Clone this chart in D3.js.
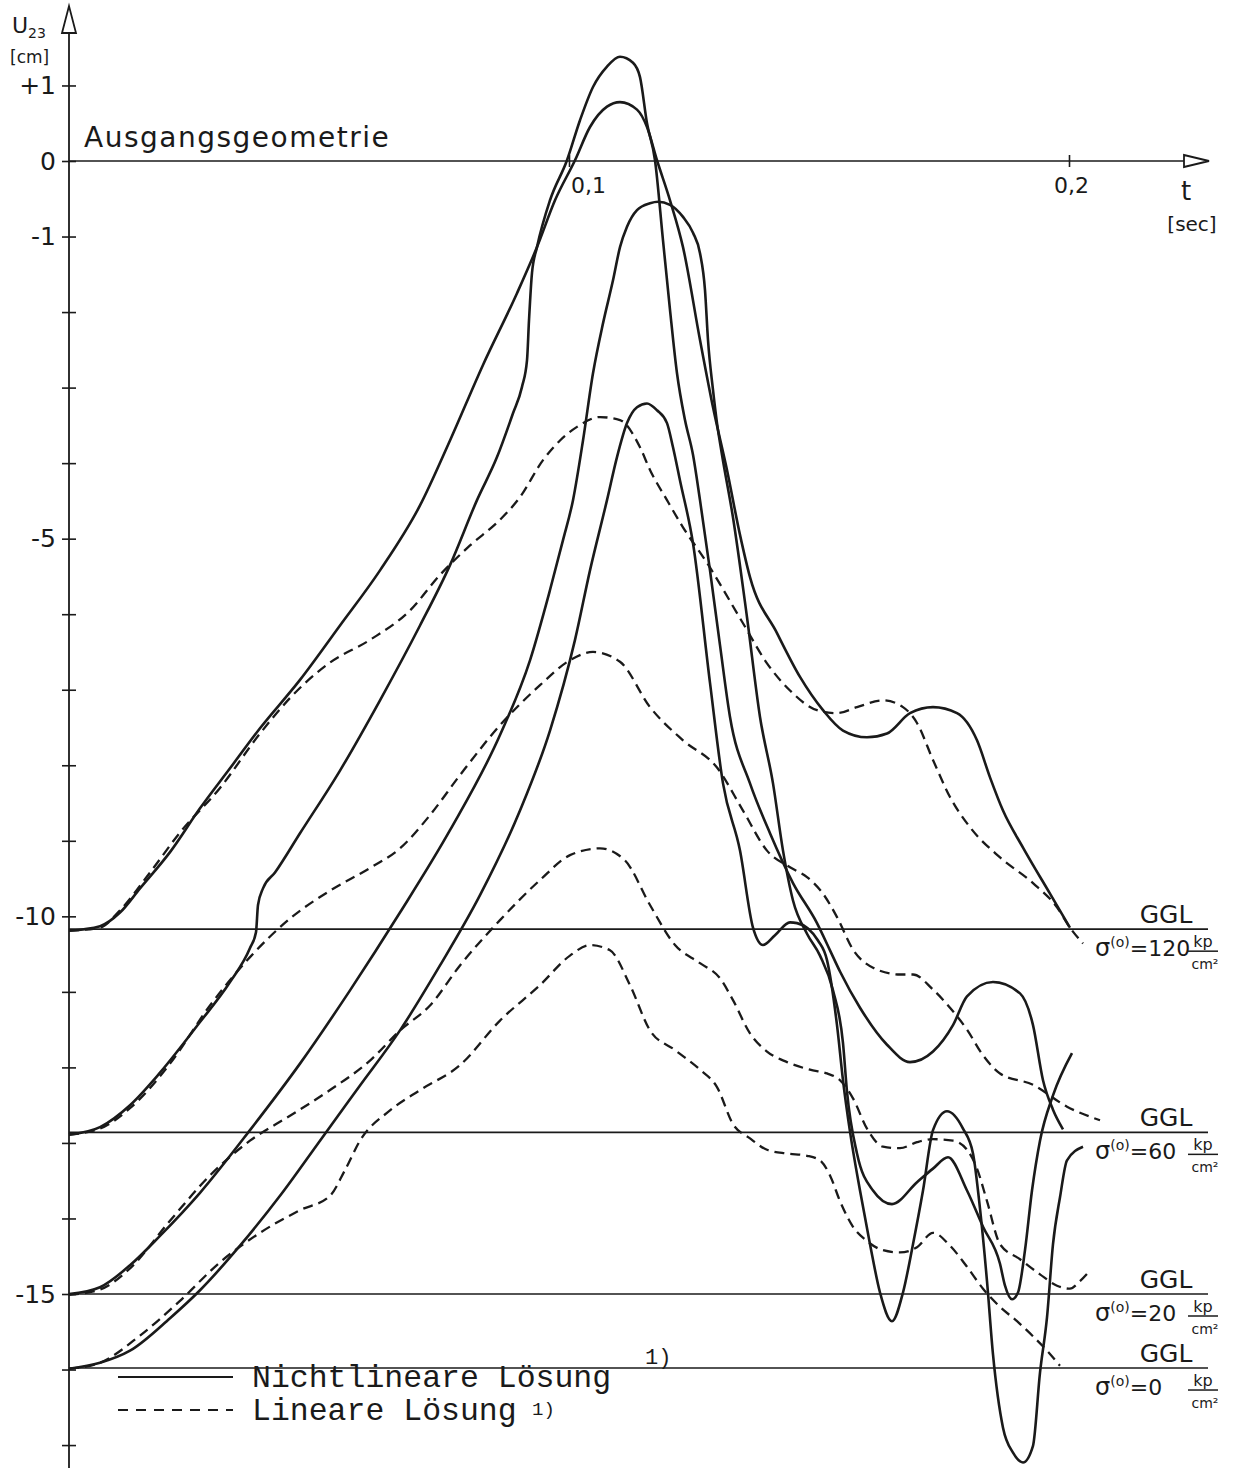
<!DOCTYPE html>
<html><head><meta charset="utf-8">
<script src="https://cdn.jsdelivr.net/npm/d3@7"></script>
<style>body{margin:0;background:#fff}svg{display:block}</style>
</head><body>
<svg id="c" width="1249" height="1468"></svg>
<script>
// ---- data: [t in ms, u23 in cm] ----
const nl120 = [[0,-10.19],[6.2,-10.13],[10.2,-9.95],[14.2,-9.63],[20.2,-9.15],[26.2,-8.57],[32.2,-8.04],[38.2,-7.51],[46.2,-6.87],[54.2,-6.15],[62.2,-5.42],[70.2,-4.56],[76.2,-3.70],[82.8,-2.70],[89.6,-1.75],[93.6,-1.14],[97.2,-0.52],[101.2,0.01],[104.2,0.45],[107.6,0.72],[110.2,0.78],[113.6,0.68],[115.6,0.45],[117.6,0.01],[120.2,-0.52],[122.8,-1.14],[126.2,-2.37],[128.8,-3.26],[131.6,-4.09],[134.2,-4.95],[136.2,-5.51],[141.6,-6.25],[146.2,-6.83],[150.8,-7.27],[154.8,-7.54],[159.6,-7.63],[163.6,-7.58],[168.2,-7.31],[172.8,-7.23],[177.6,-7.31],[181.6,-7.67],[184.2,-8.16],[186.8,-8.60],[190.8,-9.09],[196.2,-9.70],[200.2,-10.15]];
const lin120 = [[0,-10.19],[6.2,-10.15],[10.2,-9.92],[16.2,-9.42],[22.2,-8.89],[30.2,-8.30],[38.2,-7.58],[44.2,-7.11],[52.2,-6.64],[60.2,-6.34],[68.2,-5.95],[74.2,-5.48],[80.2,-5.09],[86.2,-4.75],[90.2,-4.45],[94.8,-3.96],[98.2,-3.70],[101.6,-3.52],[106.2,-3.39],[110.2,-3.43],[114.2,-3.79],[116.2,-4.09],[119.6,-4.49],[122.8,-4.85],[127.6,-5.32],[134.8,-6.12],[139.6,-6.65],[144.2,-7.01],[149.6,-7.27],[153.6,-7.31],[157.6,-7.23],[162.8,-7.14],[166.8,-7.23],[169.6,-7.44],[172.8,-7.93],[176.2,-8.42],[180.2,-8.82],[186.2,-9.22],[192.8,-9.56],[197.6,-9.88],[200.2,-10.15],[202.8,-10.36]];
const nl60 = [[0,-12.89],[6.2,-12.79],[12.2,-12.50],[18.2,-12.07],[26.2,-11.40],[32.2,-10.87],[36.2,-10.42],[37.4,-10.21],[37.8,-9.85],[38.8,-9.63],[41.2,-9.42],[46.2,-8.90],[54.2,-8.07],[62.2,-7.14],[70.2,-6.15],[76.2,-5.35],[81.6,-4.49],[85.6,-3.92],[88.8,-3.34],[90.6,-2.99],[91.6,-2.64],[92.0,-2.11],[92.6,-1.48],[93.6,-1.14],[96.2,-0.52],[99.6,0.01],[102.2,0.54],[104.8,0.98],[107.6,1.25],[110.2,1.38],[112.8,1.30],[114.2,1.11],[115.6,0.50],[117.2,0.01],[118.8,-1.05],[120.2,-1.97],[121.6,-2.81],[123.2,-3.43],[124.8,-3.89],[126.2,-4.49],[128.2,-5.42],[130.2,-6.41],[132.2,-7.36],[136.2,-8.24],[140.2,-8.90],[144.8,-9.56],[149.6,-10.09],[152.2,-10.45],[154.2,-10.73],[158.2,-11.21],[163.6,-11.70],[168.2,-11.93],[172.8,-11.79],[176.8,-11.44],[179.6,-11.06],[184.8,-10.87],[190.2,-11.02],[192.8,-11.44],[194.8,-12.17],[196.8,-12.56],[198.8,-12.82]];
const lin60 = [[0,-12.89],[6.2,-12.81],[12.2,-12.54],[20.2,-11.95],[28.2,-11.18],[36.2,-10.54],[44.2,-10.03],[52.2,-9.66],[60.2,-9.36],[66.2,-9.10],[72.2,-8.66],[78.2,-8.13],[86.2,-7.47],[94.2,-6.94],[100.2,-6.61],[104.8,-6.50],[110.2,-6.63],[116.2,-7.23],[122.8,-7.67],[129.6,-8.03],[134.8,-8.60],[139.6,-9.13],[144.2,-9.35],[147.6,-9.48],[150.8,-9.70],[153.6,-10.01],[156.8,-10.44],[160.8,-10.68],[166.2,-10.77],[168.8,-10.77],[172.8,-10.97],[176.2,-11.21],[179.6,-11.50],[182.8,-11.84],[186.2,-12.08],[192.8,-12.23],[199.6,-12.52],[206.2,-12.70]];
const nl20 = [[0,-15.0],[6.2,-14.91],[12.2,-14.62],[18.2,-14.23],[26.2,-13.66],[36.2,-12.83],[46.2,-11.95],[56.2,-10.98],[66.2,-9.95],[76.2,-8.86],[86.2,-7.60],[92.2,-6.61],[96.2,-5.68],[98.8,-5.02],[100.8,-4.49],[102.8,-3.70],[104.8,-2.81],[106.8,-2.15],[108.8,-1.58],[110.2,-1.14],[111.6,-0.87],[113.6,-0.65],[116.2,-0.56],[117.8,-0.54],[120.2,-0.58],[122.8,-0.74],[124.8,-0.95],[126.2,-1.22],[127.2,-1.71],[127.8,-2.37],[128.8,-3.03],[129.6,-3.47],[130.6,-3.89],[132.8,-4.72],[135.6,-6.04],[138.2,-7.36],[140.8,-8.24],[142.8,-9.13],[144.8,-9.79],[147.6,-10.23],[150.2,-10.52],[152.8,-10.98],[154.8,-11.68],[155.6,-12.32],[157.6,-13.14],[160.8,-13.63],[164.6,-13.81],[169.6,-13.52],[172.8,-13.34],[175.8,-13.19],[179.6,-13.63],[182.8,-14.11],[186.2,-14.60],[187.2,-14.89],[188.6,-15.07],[189.8,-14.98],[191.2,-14.42],[192.6,-13.63],[194.2,-12.97],[196.8,-12.37],[200.6,-11.81]];
const lin20 = [[0,-15.01],[6.2,-14.94],[12.2,-14.66],[20.2,-14.03],[28.2,-13.43],[36.2,-12.97],[44.2,-12.64],[52.2,-12.30],[60.2,-11.91],[66.2,-11.51],[72.2,-11.18],[78.2,-10.65],[86.2,-10.05],[94.2,-9.52],[100.2,-9.19],[106.2,-9.10],[111.2,-9.26],[116.2,-9.85],[121.2,-10.38],[126.2,-10.62],[130.2,-10.82],[132.8,-11.11],[136.2,-11.55],[139.6,-11.79],[143.6,-11.93],[148.2,-12.03],[151.6,-12.08],[154.2,-12.17],[156.8,-12.41],[159.6,-12.81],[162.8,-13.05],[166.2,-13.07],[169.6,-12.99],[172.8,-12.95],[176.8,-12.97],[179.6,-13.09],[181.6,-13.34],[183.6,-13.77],[186.2,-14.34],[190.2,-14.54],[194.2,-14.74],[197.6,-14.89],[200.2,-14.93],[202.2,-14.83],[204.2,-14.69]];
const nl0 = [[0,-15.99],[6.2,-15.91],[12.2,-15.75],[20.2,-15.32],[26.2,-14.95],[34.2,-14.36],[42.2,-13.70],[50.2,-12.97],[58.2,-12.24],[66.2,-11.51],[74.2,-10.65],[82.2,-9.72],[90.2,-8.60],[96.2,-7.54],[101.2,-6.34],[104.2,-5.42],[107.6,-4.49],[109.6,-3.92],[111.6,-3.47],[113.6,-3.26],[115.6,-3.21],[117.6,-3.30],[119.6,-3.47],[120.8,-3.79],[122.2,-4.23],[124.8,-5.06],[128.2,-6.91],[130.8,-8.24],[134.2,-9.13],[136.8,-10.15],[138.8,-10.38],[141.2,-10.25],[144.2,-10.08],[145.6,-10.09],[147.8,-10.16],[149.8,-10.32],[151.6,-10.58],[153.6,-11.44],[154.8,-12.17],[156.2,-12.85],[158.2,-13.63],[160.2,-14.34],[162.2,-14.98],[164.6,-15.36],[166.8,-14.98],[168.8,-14.34],[170.8,-13.63],[172.8,-12.83],[175.6,-12.58],[178.8,-12.81],[180.8,-13.14],[182.2,-13.87],[183.6,-14.83],[184.8,-15.80],[186.8,-16.77],[188.8,-17.10],[190.8,-17.23],[192.8,-17.01],[194.2,-16.04],[195.6,-15.31],[196.8,-14.34],[198.2,-13.72],[199.6,-13.23],[202.8,-13.05]];
const lin0 = [[0,-15.99],[6.2,-15.91],[14.2,-15.55],[22.2,-15.09],[30.2,-14.58],[38.2,-14.19],[46.2,-13.89],[52.2,-13.70],[55.2,-13.36],[58.2,-12.97],[64.2,-12.57],[70.2,-12.30],[78.2,-11.97],[86.2,-11.38],[94.2,-10.91],[100.2,-10.52],[104.2,-10.38],[108.2,-10.45],[112.2,-10.91],[116.2,-11.51],[121.2,-11.77],[126.2,-12.03],[129.6,-12.26],[132.8,-12.75],[136.2,-12.94],[139.6,-13.09],[143.6,-13.14],[147.6,-13.17],[150.2,-13.23],[152.2,-13.43],[154.2,-13.77],[156.8,-14.11],[159.6,-14.30],[162.8,-14.42],[166.2,-14.45],[169.6,-14.38],[172.8,-14.19],[176.2,-14.36],[179.6,-14.64],[182.8,-14.93],[186.2,-15.17],[189.6,-15.36],[192.8,-15.56],[195.6,-15.75],[198.2,-15.95]];

const gglLevels = [-10.17, -12.86, -15.0, -15.98];
const sigmaValues = ["120", "60", "20", "0"];
const yTickValues = d3.range(1, -18, -1);
const yTickLabels = {"1":"+1","0":"0","-1":"-1","-5":"-5","-10":"-10","-15":"-15"};
const xTickValues = [0.1, 0.2];
const xTickLabels = ["0,1", "0,2"];
const legendLabels = ["Nichtlineare Lösung", "Lineare Lösung"];

// ---- scales ----
const svg = d3.select("#c");
const x = d3.scaleLinear().domain([0, 0.2]).range([69, 1069]);
const y = d3.scaleLinear().domain([0, -15]).range([161, 1294]);
const ink = "#1a1a1a";
const lettering = "'DejaVu Sans', sans-serif";
const mono = "'Liberation Mono', monospace";

// GGL lines
svg.append("g").selectAll("line").data(gglLevels).join("line")
  .attr("x1", x(0)).attr("x2", 1208)
  .attr("y1", d => y(d)).attr("y2", d => y(d))
  .attr("stroke", ink).attr("stroke-width", 1.6);

// x axis line (Ausgangsgeometrie)
svg.append("line").attr("x1", x(0)).attr("x2", 1186).attr("y1", y(0)).attr("y2", y(0))
  .attr("stroke", ink).attr("stroke-width", 1.6);
svg.append("path").attr("d", `M1184,${y(0)-6}L1209,${y(0)}L1184,${y(0)+6}Z`)
  .attr("fill", "#fff").attr("stroke", ink).attr("stroke-width", 1.8);

// y axis
svg.append("line").attr("x1", x(0)).attr("x2", x(0)).attr("y1", 32).attr("y2", 1468)
  .attr("stroke", ink).attr("stroke-width", 1.8);
svg.append("path").attr("d", `M${x(0)-7},33L${x(0)},6L${x(0)+7},33Z`)
  .attr("fill", "#fff").attr("stroke", ink).attr("stroke-width", 1.8);

const yl = svg.append("g").attr("transform", `translate(${x(0)},0)`)
  .call(d3.axisLeft(y).tickValues(yTickValues).tickSize(7).tickPadding(6)
    .tickFormat(d => yTickLabels[String(d)] || ""));
const yr = svg.append("g").attr("transform", `translate(${x(0)},0)`)
  .call(d3.axisRight(y).tickValues(yTickValues).tickSize(7).tickFormat(""));
[yl, yr].forEach(g => { g.select(".domain").remove(); g.selectAll("line").attr("stroke", ink).attr("stroke-width", 1.6); });
yl.selectAll("text").attr("font-family", lettering).attr("font-size", 25).attr("fill", ink);

const xa = svg.append("g").attr("transform", `translate(0,${y(0)})`)
  .call(d3.axisBottom(x).tickValues(xTickValues).tickSize(6).tickPadding(10)
    .tickFormat((d, i) => xTickLabels[i]));
xa.select(".domain").remove();
xa.selectAll("line").attr("stroke", ink).attr("stroke-width", 1.6).attr("y1", -6);
xa.selectAll("text").attr("font-family", lettering).attr("font-size", 22).attr("fill", ink)
  .attr("dx", (d, i) => i === 0 ? 19 : 2);

// axis titles
const ylab = svg.append("text").attr("x", 12).attr("y", 33).attr("font-family", lettering)
  .attr("font-size", 22).attr("fill", ink);
ylab.append("tspan").text("U");
ylab.append("tspan").attr("font-size", 14).attr("dy", 5).text("23");
svg.append("text").attr("x", 10).attr("y", 63).attr("font-family", lettering).attr("font-size", 17)
  .attr("fill", ink).text("[cm]");
svg.append("text").attr("x", 1186).attr("y", 200).attr("text-anchor", "middle").attr("font-family", lettering)
  .attr("font-size", 26).attr("fill", ink).text("t");
svg.append("text").attr("x", 1192).attr("y", 231).attr("text-anchor", "middle").attr("font-family", lettering)
  .attr("font-size", 20).attr("fill", ink).text("[sec]");
svg.append("text").attr("x", 84).attr("y", 147).attr("font-family", lettering).attr("font-size", 28)
  .attr("letter-spacing", 1.5).attr("fill", ink).text("Ausgangsgeometrie");

// curves
const line = d3.line().x(d => x(d[0] / 1000)).y(d => y(d[1])).curve(d3.curveMonotoneX);
const series = [
  {d: nl120, dash: null}, {d: lin120, dash: "10,6"},
  {d: nl60, dash: null}, {d: lin60, dash: "10,6"},
  {d: nl20, dash: null}, {d: lin20, dash: "10,6"},
  {d: nl0, dash: null}, {d: lin0, dash: "10,6"}
];
svg.append("g").selectAll("path").data(series).join("path")
  .attr("d", s => line(s.d)).attr("fill", "none").attr("stroke", ink)
  .attr("stroke-width", s => s.dash ? 2.3 : 2.6)
  .attr("stroke-dasharray", s => s.dash).attr("stroke-linejoin", "round");

// GGL labels
const lab = svg.append("g").selectAll("g").data(gglLevels).join("g")
  .attr("transform", d => `translate(0,${y(d)})`);
lab.append("text").attr("x", 1166).attr("y", -6).attr("text-anchor", "middle")
  .attr("font-family", lettering).attr("font-size", 25).attr("fill", ink).text("GGL");
const sig = lab.append("text").attr("x", 1095).attr("y", 27).attr("font-family", lettering)
  .attr("font-size", 24).attr("fill", ink);
sig.append("tspan").text("σ");
sig.append("tspan").attr("font-size", 14).attr("dy", -9).text("(o)");
sig.append("tspan").attr("font-size", 22).attr("dy", 9).text((d, i) => "=" + sigmaValues[i]);
lab.append("text").attr("x", 1203).attr("y", 18).attr("text-anchor", "middle").attr("font-family", lettering)
  .attr("font-size", 16).attr("fill", ink).text("kp");
lab.append("line").attr("x1", 1188).attr("x2", 1218).attr("y1", 22).attr("y2", 22)
  .attr("stroke", ink).attr("stroke-width", 1.5);
lab.append("text").attr("x", 1205).attr("y", 40).attr("text-anchor", "middle").attr("font-family", lettering)
  .attr("font-size", 14).attr("fill", ink).text("cm²");

// legend
const leg = svg.append("g");
const legSup = [[645, 1364, 22], [532, 1415, 19]];
[0, 1].forEach(i => {
  const ly = 1377 + i * 33;
  leg.append("line").attr("x1", 118).attr("x2", 233).attr("y1", ly).attr("y2", ly)
    .attr("stroke", ink).attr("stroke-width", 2.2).attr("stroke-dasharray", i ? "10,8" : null);
  leg.append("text").attr("x", 252).attr("y", ly + 10).attr("font-family", mono)
    .attr("font-size", 31.5).attr("fill", ink).text(legendLabels[i]);
  leg.append("text").attr("x", legSup[i][0]).attr("y", legSup[i][1]).attr("font-family", mono)
    .attr("font-size", legSup[i][2]).attr("fill", ink).text("1)");
});
</script>
</body></html>
